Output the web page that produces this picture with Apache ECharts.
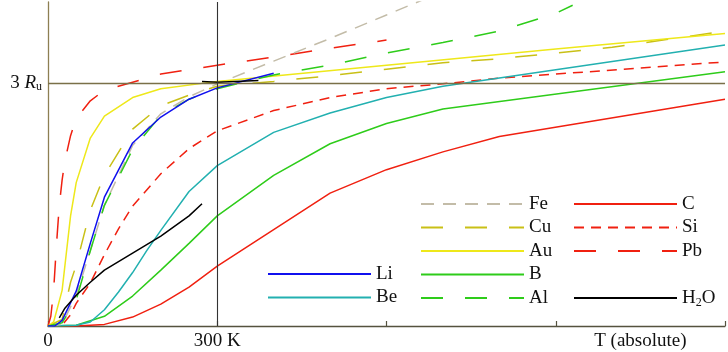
<!DOCTYPE html>
<html>
<head>
<meta charset="utf-8">
<script src="https://cdn.jsdelivr.net/npm/echarts/dist/echarts.min.js"></script>
<style>
  html, body { margin: 0; padding: 0; background: #fff; }
  #chart { width: 728px; height: 352px; }
</style>
</head>
<body>
<div id="chart"></div>
<script>
// heat capacity per atom, in units of R, against absolute temperature (K)
const fe = [[0, 0], [25, 0.02], [50, 0.38], [75, 0.93], [100, 1.49], [150, 2.23], [200, 2.62], [250, 2.83], [300, 2.99], [400, 3.27], [500, 3.55], [600, 3.84], [700, 4.13]]
const cu = [[0, 0], [25, 0.08], [40, 0.54], [50, 0.75], [75, 1.43], [100, 1.86], [150, 2.43], [200, 2.72], [250, 2.85], [300, 2.96], [400, 3.02], [500, 3.09], [600, 3.17], [700, 3.25], [800, 3.3], [900, 3.37], [1000, 3.44], [1100, 3.54], [1190, 3.63]]
const au = [[0, 0], [10, 0.05], [25, 0.44], [40, 1.36], [50, 1.77], [75, 2.32], [100, 2.59], [150, 2.82], [200, 2.93], [300, 3.02], [600, 3.22], [900, 3.42], [1200, 3.61]]
const b = [[0, 0], [50, 0.01], [100, 0.12], [150, 0.37], [200, 0.69], [250, 1.02], [300, 1.36], [400, 1.86], [500, 2.25], [600, 2.5], [700, 2.68], [1200, 3.14]]
const al = [[0, 0], [25, 0.04], [50, 0.32], [75, 0.93], [100, 1.49], [150, 2.18], [200, 2.6], [250, 2.8], [300, 2.93], [400, 3.1], [500, 3.22], [600, 3.37], [700, 3.5], [800, 3.64], [900, 3.86], [930, 3.96]]
const li = [[0, 0], [12, 0], [25, 0.07], [50, 0.43], [75, 1.02], [100, 1.59], [150, 2.26], [200, 2.58], [250, 2.8], [300, 2.94], [400, 3.12]]
const be = [[0, 0], [50, 0.01], [75, 0.05], [100, 0.2], [125, 0.42], [150, 0.66], [175, 0.93], [200, 1.18], [250, 1.66], [300, 1.98], [400, 2.39], [500, 2.63], [600, 2.82], [700, 2.96], [1200, 3.47]]
const c = [[0, 0], [50, 0], [100, 0.02], [150, 0.11], [200, 0.27], [250, 0.48], [300, 0.74], [400, 1.19], [500, 1.64], [600, 1.93], [700, 2.15], [800, 2.34], [1200, 2.8]]
const si = [[0, 0], [25, 0.01], [40, 0.14], [50, 0.28], [75, 0.53], [100, 0.88], [125, 1.2], [150, 1.48], [200, 1.88], [250, 2.19], [300, 2.41], [400, 2.66], [500, 2.82], [600, 2.93], [700, 2.99], [800, 3.06], [1200, 3.26]]
const pb = [[0, 0], [5, 0.12], [10, 0.44], [15, 1.0], [20, 1.49], [25, 1.8], [30, 2.04], [40, 2.35], [50, 2.56], [75, 2.78], [100, 2.91], [150, 3.01], [200, 3.11], [300, 3.22], [400, 3.32], [500, 3.43], [600, 3.53]]
const ice = [[20, 0.1], [30, 0.22], [50, 0.38], [75, 0.54], [100, 0.69], [150, 0.9], [200, 1.11], [250, 1.36], [273, 1.51]]
const water = [[273, 3.02], [300, 3.01], [373, 3.03]]

const xLabels = { 0: '0', 300: '300 K' }
const xTitleAt = 1050
const yLabelAt = 3

const serif = 'Liberation Serif'

function line (name, data, color, type) {
  return {
    name: name,
    type: 'line',
    data: data,
    symbol: 'none',
    smooth: false,
    lineStyle: { color: color, width: 1.5, type: type || 'solid' },
    itemStyle: { color: color },
    emphasis: { disabled: true }
  }
}

let myChart = echarts.init(document.getElementById('chart'))

let legendBase = {
  orient: 'vertical',
  itemWidth: 103,
  itemHeight: 19,
  itemGap: 4.5,
  selectedMode: false,
  padding: 0,
  // only the line of each item, no marker on it
  itemStyle: { color: 'rgba(0,0,0,0)', borderWidth: 0, opacity: 0 },
  textStyle: {
    fontFamily: serif,
    fontSize: 19,
    color: '#111',
    rich: {
      sub: { fontFamily: serif, fontSize: 12, padding: [9, 0, 0, 0], color: '#111' }
    }
  },
  formatter: function (name) {
    return name === 'H2O' ? 'H{sub|2}O' : name
  }
}

let opt = {
  animation: false,
  grid: { left: 48, right: 1, top: 2, bottom: 26 },
  legend: [
    Object.assign({}, legendBase, { left: 267, top: 264.5, data: ['Li', 'Be'] }),
    Object.assign({}, legendBase, { left: 420, top: 194.5, data: ['Fe', 'Cu', 'Au', 'B', 'Al'] }),
    Object.assign({}, legendBase, { left: 573, top: 194.5, data: ['C', 'Si', 'Pb'] }),
    Object.assign({}, legendBase, { left: 573, top: 288.5, data: ['H2O'] })
  ],
  xAxis: [
    {
      type: 'value',
      min: 0,
      max: 1200,
      interval: 300,
      axisLine: { lineStyle: { color: '#55523f', width: 1.3 } },
      axisTick: { show: true, inside: true, length: 5, lineStyle: { color: '#55523f', width: 1.2 } },
      splitLine: { show: false },
      axisLabel: {
        margin: 6,
        fontFamily: serif,
        fontSize: 19,
        color: '#111',
        formatter: v => xLabels[v] || ''
      }
    },
    {
      type: 'value',
      position: 'bottom',
      min: 0,
      max: 1200,
      interval: 150,
      axisLine: { show: false },
      axisTick: { show: false },
      splitLine: { show: false },
      axisLabel: {
        margin: 6,
        fontFamily: serif,
        fontSize: 19,
        color: '#111',
        formatter: v => (v === xTitleAt ? 'T (absolute)' : '')
      }
    }
  ],
  yAxis: {
    type: 'value',
    min: 0,
    max: 4,
    interval: 1,
    axisLine: { show: true, lineStyle: { color: '#8d7f52', width: 1.3 } },
    axisTick: { show: false },
    splitLine: { show: false },
    axisLabel: {
      margin: 6,
      color: '#111',
      fontFamily: serif,
      fontSize: 19,
      formatter: v => (v === yLabelAt ? '3 {i|R}{s|u}' : ''),
      rich: {
        i: { fontFamily: serif, fontSize: 19, fontStyle: 'italic', color: '#111' },
        s: { fontFamily: serif, fontSize: 12, padding: [8, 0, 0, 0], color: '#111' }
      }
    }
  },
  series: [
    {
      name: 'ref',
      type: 'line',
      data: [],
      markLine: {
        silent: true,
        symbol: 'none',
        label: { show: false },
        data: [
          { yAxis: 3, lineStyle: { color: '#7a7048', width: 1.3, type: 'solid' } },
          { xAxis: 300, lineStyle: { color: '#333', width: 1.1, type: 'solid' } }
        ]
      }
    },
    line('C', c, '#f02010'),
    line('Si', si, '#f02010', [10, 7]),
    line('Pb', pb, '#f02010', [22, 22]),
    line('B', b, '#2ecc1a'),
    line('Be', be, '#22b0b0'),
    line('Fe', fe, '#c3bca8', [13, 9]),
    line('Cu', cu, '#c9c016', [22, 22]),
    line('Au', au, '#eee81a'),
    line('Al', al, '#2ecc1a', [22, 22]),
    line('Li', li, '#1010ee'),
    line('H2O', ice, '#000'),
    line('H2O', water, '#000')
  ]
}

myChart.setOption(opt, true)
window.addEventListener('resize', () => myChart.resize())
</script>
</body>
</html>
